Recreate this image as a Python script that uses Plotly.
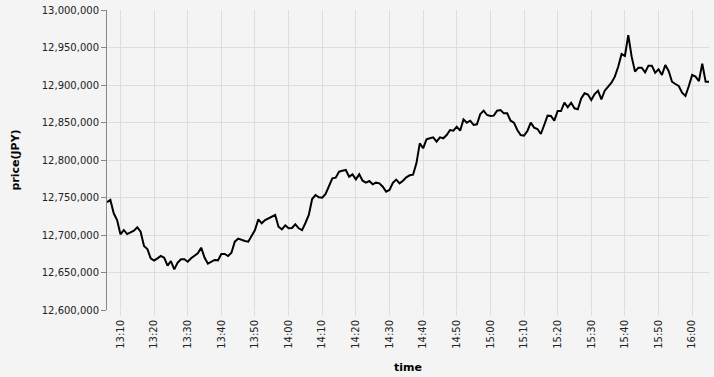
import pandas as pd
import plotly.graph_objects as go

# one price per minute, starting at 13:06 and ending at 16:05
start_time = "2024-01-01 13:06"
prices = [
    12743600, 12746700, 12728900, 12720000, 12700900, 12706700, 12701300, 12703100, 12705800, 12710200,  # 13:06-13:15
    12704400, 12685300, 12681300, 12668900, 12665800, 12668900, 12672000, 12669800, 12659100, 12665300,  # 13:16-13:25
    12654200, 12663100, 12667600, 12667600, 12664400, 12668900, 12672000, 12675600, 12683100, 12670000,  # 13:26-13:35
    12661800, 12664400, 12666700, 12666200, 12674700, 12674700, 12672000, 12676400, 12691100, 12695100,  # 13:36-13:45
    12693300, 12692000, 12691100, 12698700, 12706700, 12720900, 12715600, 12720000, 12722200, 12724400,  # 13:46-13:55
    12726700, 12711100, 12707600, 12712900, 12708900, 12709300, 12714200, 12708900, 12706500, 12716000,  # 13:56-14:05
    12726700, 12748000, 12753300, 12750200, 12749800, 12754700, 12765300, 12775600, 12776400, 12784400,  # 14:06-14:15
    12785800, 12786700, 12777800, 12780900, 12774200, 12780900, 12772400, 12769800, 12772000, 12767600,  # 14:16-14:25
    12769800, 12768900, 12764400, 12757800, 12760000, 12769500, 12773800, 12768900, 12772400, 12776900,  # 14:26-14:35
    12779600, 12780400, 12795600, 12822200, 12815600, 12827600, 12828900, 12830200, 12824400, 12830200,  # 14:36-14:45
    12828900, 12833300, 12840000, 12839100, 12844400, 12839100, 12854200, 12849800, 12852400, 12846700,  # 14:46-14:55
    12847600, 12861300, 12865800, 12860000, 12858700, 12859100, 12865800, 12866700, 12862200, 12862200,  # 14:56-15:05
    12852400, 12849800, 12840000, 12833300, 12832400, 12838700, 12849800, 12843100, 12841300, 12834700,  # 15:06-15:15
    12846700, 12859100, 12858700, 12852400, 12865300, 12865300, 12876400, 12870200, 12876400, 12868900,  # 15:16-15:25
    12867600, 12882200, 12888900, 12887300, 12880000, 12888000, 12892400, 12880900, 12892400, 12897800,  # 15:26-15:35
    12903100, 12911100, 12924400, 12941300, 12938700, 12966500, 12937800, 12917800, 12923100, 12923100,  # 15:36-15:45
    12916900, 12925800, 12925800, 12916400, 12920900, 12913300, 12926700, 12918700, 12904400, 12901300,  # 15:46-15:55
    12898700, 12889800, 12885300, 12898700, 12913300, 12911100, 12905300, 12928500, 12904400, 12904400,  # 15:56-16:05
]
times = pd.date_range(start_time, periods=len(prices), freq="1min")

y_range = [12600000, 13000000]
y_step = 50000

BG = "#f4f4f4"
GRID = "#dddddd"
FONT = "DejaVu Sans"

fig = go.Figure(
    go.Scatter(
        x=times, y=prices, mode="lines",
        line=dict(color="#000000", width=2),
    )
)

fig.update_layout(
    width=714, height=377,
    margin=dict(l=107, r=5, t=10, b=67),
    paper_bgcolor=BG, plot_bgcolor=BG,
    font=dict(family=FONT, size=10, color="#222222"),
    showlegend=False,
)

fig.update_xaxes(
    range=[times[0], times[-1]],
    dtick=10 * 60 * 1000, tick0="2024-01-01 13:00",
    tickformat="%H:%M", tickangle=-90,
    showgrid=True, gridcolor=GRID, gridwidth=1,
    showline=False, zeroline=False,
    ticks="outside", ticklen=5, tickcolor=GRID,
    tickfont=dict(family=FONT, size=10, color="#222222"),
    title=dict(text="<b>time</b>", font=dict(family=FONT, size=11, color="#000000"), standoff=15),
)

fig.update_yaxes(
    range=y_range, dtick=y_step, tickformat=",d",
    showgrid=True, gridcolor=GRID, gridwidth=1,
    showline=True, linecolor="#888888", linewidth=1,
    zeroline=False,
    ticks="outside", ticklen=5, tickcolor="#888888",
    tickfont=dict(family=FONT, size=10, color="#222222"),
    title=dict(text="<b>price(JPY)</b>", font=dict(family=FONT, size=11, color="#000000"), standoff=19),
)

fig.write_html("out.html")
